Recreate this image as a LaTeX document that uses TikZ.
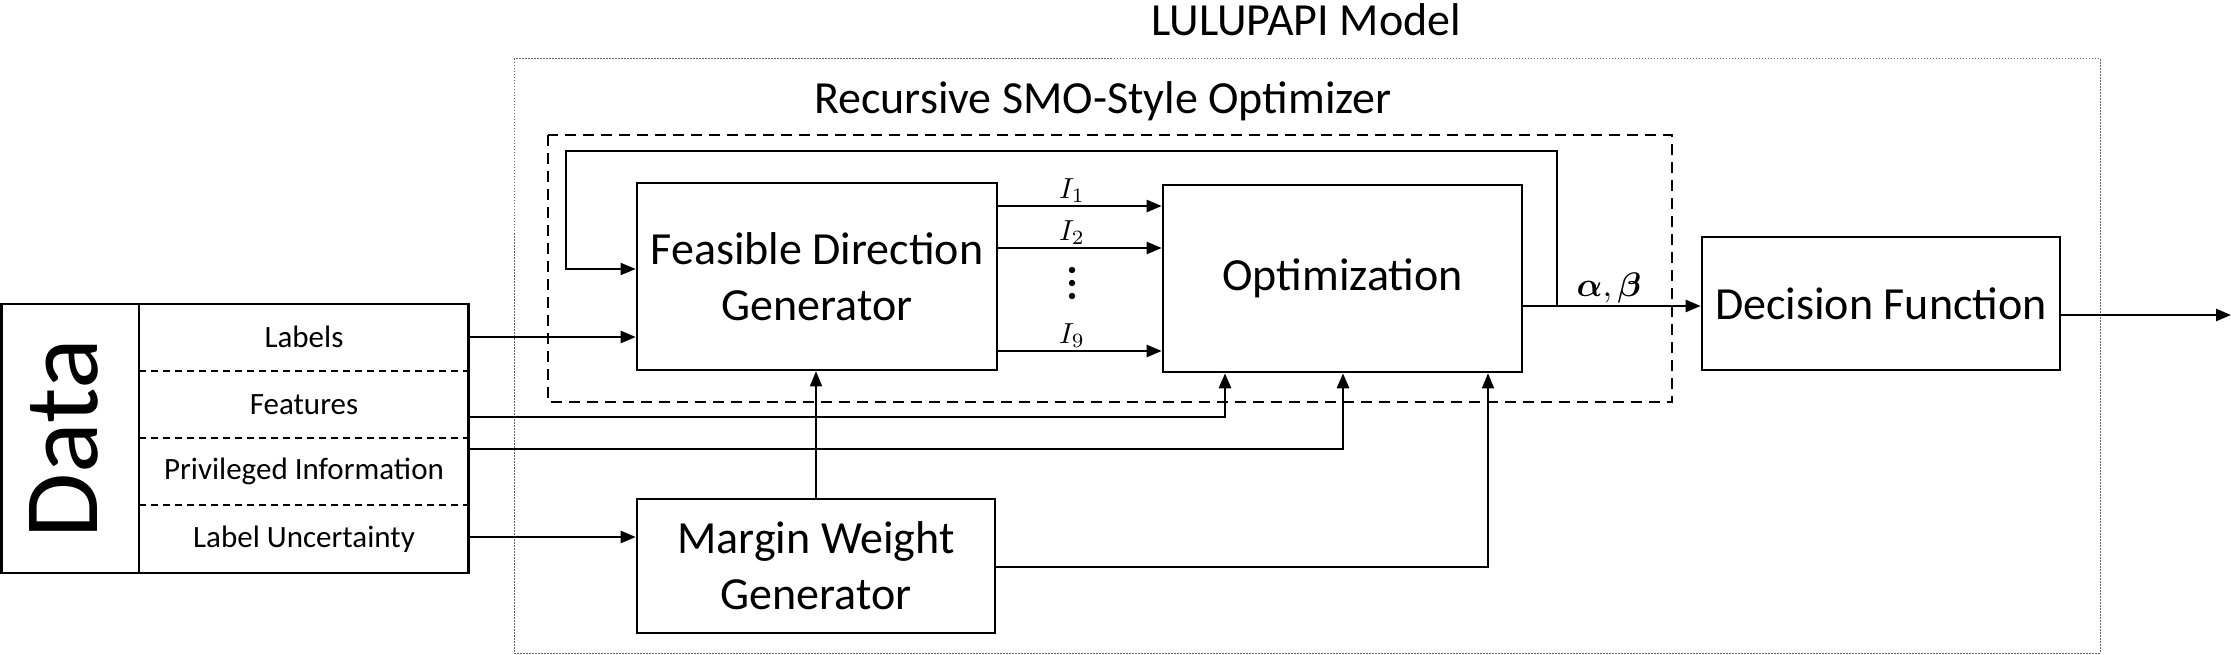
\documentclass[tikz,border=0pt]{standalone}
\usepackage{amsmath,bm}
\usepackage{fontspec}
\setmainfont{Carlito}
\usetikzlibrary{arrows.meta}
\begin{document}
\begin{tikzpicture}[x=1pt,y=-1pt,
  box/.style={draw,line width=2.6pt,inner sep=0pt,align=center,font=\fontsize{46}{56}\selectfont},
  title/.style={inner sep=0pt,font=\fontsize{46}{56}\selectfont},
  rowtext/.style={inner sep=0pt,font=\fontsize{31}{36}\selectfont},
  arr/.style={-{Triangle[length=15pt,width=12pt]},line width=2.4pt},
  thinarr/.style={-{Triangle[length=15pt,width=12pt]},line width=1.6pt},
  ilab/.style={inner sep=1pt,font=\normalsize},
  outerbox/.style={draw=black!60,line width=1pt,dash pattern=on 1.5pt off 1.5pt},
  dashbox/.style={draw,line width=2.6pt,dash pattern=on 11pt off 7pt},
  rowsep/.style={line width=1.4pt,dash pattern=on 7pt off 5pt}]
\path[use as bounding box,fill=white] (0,0) rectangle (2231,655);

% outer model frame
\draw[outerbox] (514,59) rectangle (2100,653);
\node[title] (lulu) at (1306,20) {LULUPAPI Model};

% optimizer frame
\draw[dashbox] (548,135) rectangle (1672,402);
\node[title] (rso) at (1103,101) {Recursive SMO-Style Optimizer};

% blocks
\node[box,minimum width=360pt,minimum height=187pt] (fdg) at (817,276.5) {Feasible Direction\\Generator};
\node[box,minimum width=359pt,minimum height=187pt] (opt) at (1342.5,278.5) {Optimization};
\node[box,minimum width=358pt,minimum height=133pt] (df) at (1881,303.5) {Decision Function};
\node[box,minimum width=358pt,minimum height=134pt] (mwg) at (816,566) {Margin Weight\\Generator};

% data block
\node[draw,line width=2.4pt,inner sep=0pt,minimum width=467pt,minimum height=269pt] (data) at (235,438.5) {};
\draw[line width=1.4pt] (139,0 |- data.north) -- (139,0 |- data.south);
\draw[rowsep] (139,371) -- (data.east |- 0,371);
\draw[rowsep] (139,438) -- (data.east |- 0,438);
\draw[rowsep] (139,505) -- (data.east |- 0,505);
\node[inner sep=0pt,rotate=90,anchor=base,font=\fontsize{106}{110}\selectfont] (datalab) at (97,439) {Data};
\node[rowtext] (rlab) at (304,337) {Labels};
\node[rowtext] (rfeat) at (304,405) {Features};
\node[rowtext] (rpriv) at (304,471) {Privileged Information};
\node[rowtext] (runc) at (304,539) {Label Uncertainty};

% data connections
\draw[arr] (data.east |- 0,337) -- (fdg.west |- 0,337);
\draw[arr,line width=2.8pt] (data.east |- 0,417) -| (opt.south -| 1225,0);
\draw[arr,line width=2.8pt] (data.east |- 0,449) -| (opt.south -| 1343,0);
\draw[arr] (data.east |- 0,537) -- (mwg.west |- 0,537);

% margin weight generator outputs
\draw[thinarr] (mwg.north) -- (fdg.south -| mwg.north);
\draw[thinarr] (mwg.east |- 0,567) -| (opt.south -| 1488,0);

% I arrows
\draw[arr] (fdg.east |- 0,206) -- (opt.west |- 0,206);
\draw[arr] (fdg.east |- 0,248) -- (opt.west |- 0,248);
\draw[arr] (fdg.east |- 0,351) -- (opt.west |- 0,351);
\node[ilab,anchor=south] (i1) at (1072,204) {\scalebox{2.9}{$I_1$}};
\node[ilab,anchor=south] (i2) at (1072,246) {\scalebox{2.9}{$I_2$}};
\node[ilab,anchor=south] (i9) at (1072,349) {\scalebox{2.9}{$I_9$}};
\fill (1072,270) circle (3.2pt) (1072,283) circle (3.2pt) (1072,296) circle (3.2pt);

% alpha beta output
\draw[arr] (opt.east |- 0,306) -- (df.west |- 0,306);
\node[inner sep=0pt,anchor=base,font=\normalsize] (ab) at (1609,297) {\scalebox{3.4}{$\boldsymbol{\alpha},\boldsymbol{\beta}$}};

% feedback loop
\coordinate (fb) at (1557,306);
\draw[thinarr] (fb) |- (566,151) |- (fdg.west |- 0,269);

% output
\coordinate (out) at (2231,315);
\draw[arr] (df.east |- out) -- (out);
\end{tikzpicture}
\end{document}
